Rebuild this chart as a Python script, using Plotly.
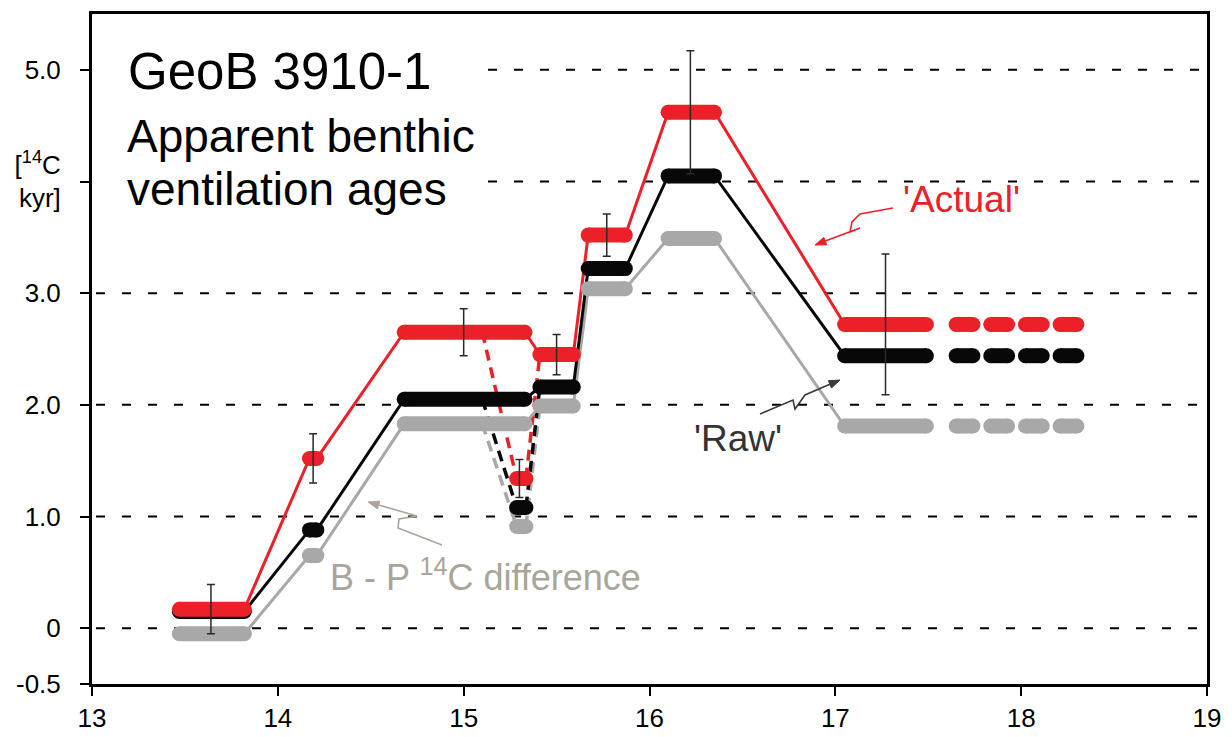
import math
import plotly.graph_objects as go

# ---------------- data ----------------
# age plateaus (kyr BP) - start / end of each plateau
seg_start = [13.47, 14.17, 14.68, 15.41, 15.67, 16.10, 17.05]
seg_end = [13.82, 14.21, 15.33, 15.59, 15.87, 16.35, 17.49]
actual = [0.17, 1.52, 2.65, 2.45, 3.52, 4.62, 2.72]
raw = [0.15, 0.88, 2.05, 2.16, 3.22, 4.05, 2.44]
bp_diff = [-0.05, 0.65, 1.83, 1.99, 3.04, 3.49, 1.81]

# alternative (dashed) dip
dip_branch_x = 15.10
dip_start, dip_end = 15.285, 15.335
actual_dip, raw_dip, bp_dip = 1.34, 1.08, 0.91

# extrapolated plateau (drawn dashed)
ext_start, ext_end = 17.65, 18.30
ext_pieces = 4

# error bars on 'Actual'
err_x = [13.64, 14.19, 15.00, 15.30, 15.50, 15.77, 16.22, 17.27]
err_y = [0.17, 1.52, 2.65, 1.34, 2.45, 3.52, 4.62, 2.72]
err_v = [0.22, 0.22, 0.21, 0.17, 0.18, 0.19, 0.55, 0.63]

x_ticks = [13, 14, 15, 16, 17, 18, 19]
y_ticks = [-0.5, 0, 1, 2, 3, 4, 5]
y_ticklabels = ["-0.5", "0", "1.0", "2.0", "3.0", "[<sup>14</sup>C<br>kyr]", "5.0"]
grid_vals = [0, 1, 2, 3, 4, 5]

# ---------------- style ----------------
RED = "#ec2028"
BLACK = "#080808"
GRAY = "#a8a8a8"
TXT_GRAY = "#a9a599"
RAW_TXT = "#3a3a3a"
W_THICK = 15
W_THIN = 3

fig = go.Figure()

# dashed pieces of extension
L = ext_end - ext_start
d = L * 17 / (17 * ext_pieces + 18 * (ext_pieces - 1))
g = d * 18 / 17
ext_segs = [(ext_start + i * (d + g), ext_start + i * (d + g) + d) for i in range(ext_pieces)]

series = [(bp_diff, bp_dip, GRAY), (raw, raw_dip, BLACK), (actual, actual_dip, RED)]

for vals, dipv, col in series:
    # dashed alternative path through the dip
    fig.add_trace(go.Scatter(
        x=[dip_branch_x, dip_start, None, dip_end, seg_start[3]],
        y=[vals[2], dipv, None, dipv, vals[3]],
        mode="lines", line=dict(color=col, width=3.5, dash="11px,7px"),
        hoverinfo="skip"))

for vals, dipv, col in series:
    # thin connecting line
    xs, ys = [], []
    for s, e, v in zip(seg_start, seg_end, vals):
        xs += [s, e]
        ys += [v, v]
    fig.add_trace(go.Scatter(x=xs, y=ys, mode="lines",
                             line=dict(color=col, width=W_THIN), hoverinfo="skip"))

for vals, dipv, col in series:
    # thick plateaus with rounded ends
    bars = list(zip(seg_start, seg_end, vals)) + [(dip_start, dip_end, dipv)]
    bars += [(s, e, vals[-1]) for s, e in ext_segs]
    xs, ys = [], []
    for s, e, v in bars:
        xs += [s, e, None]
        ys += [v, v, None]
    fig.add_trace(go.Scatter(x=xs, y=ys, mode="lines+markers",
                             line=dict(color=col, width=W_THICK),
                             marker=dict(color=col, size=W_THICK, line=dict(width=0)),
                             hoverinfo="skip"))

# error bars
fig.add_trace(go.Scatter(
    x=err_x, y=err_y, mode="markers",
    marker=dict(size=1, color="rgba(0,0,0,0)"),
    error_y=dict(type="data", array=err_v, color="#2a2a2a", thickness=1.5, width=4),
    hoverinfo="skip"))

# ---------------- layout helpers ----------------
X0, X1, Y0, Y1 = 92, 1207, 14, 684


def px(x):
    return (x - X0) / (X1 - X0)


def py(y):
    return 1 - (y - Y0) / (Y1 - Y0)


def path(points, close=False):
    s = "M " + " L ".join(f"{px(a):.5f},{py(b):.5f}" for a, b in points)
    return s + (" Z" if close else "")


def squiggle_arrow(points, color):
    """polyline body plus a filled triangular head at the last point"""
    (tx, ty), (hx, hy) = points[-2], points[-1]
    dx, dy = hx - tx, hy - ty
    n = math.hypot(dx, dy)
    ux, uy = dx / n, dy / n
    bx, by = hx - 11 * ux, hy - 11 * uy
    head = [(hx, hy), (bx - 4 * uy, by + 4 * ux), (bx + 4 * uy, by - 4 * ux)]
    body = points[:-1] + [(bx, by)]
    return [
        dict(type="path", xref="paper", yref="paper", path=path(body),
             line=dict(color=color, width=1.6)),
        dict(type="path", xref="paper", yref="paper", path=path(head, close=True),
             fillcolor=color, line=dict(color=color, width=1)),
    ]


shapes = []
# dashed horizontal gridlines (hidden behind the title block at the top left)
for gv in grid_vals:
    x_left = px(488) if gv >= 4 else px(X0 + 4)
    shapes.append(dict(type="line", xref="paper", yref="y", x0=x_left, x1=px(X1 - 3),
                       y0=gv, y1=gv, layer="below",
                       line=dict(color="black", width=2, dash="9px,17px")))

shapes += squiggle_arrow([(893, 208), (860, 214), (852, 222), (850, 232), (860, 228), (815, 245)], RED)
shapes += squiggle_arrow([(760, 414), (793, 400), (795, 409), (805, 395), (840, 380)], RAW_TXT)
shapes += squiggle_arrow([(442, 545), (398, 528), (399, 519), (417, 516), (368, 502)], TXT_GRAY)

annotations = [
    dict(text="GeoB 3910-1", x=px(126), y=py(71), xref="paper", yref="paper",
         xanchor="left", yanchor="middle", showarrow=False,
         font=dict(size=51, color="black")),
    dict(text="Apparent benthic", x=px(125), y=py(136), xref="paper", yref="paper",
         xanchor="left", yanchor="middle", showarrow=False,
         font=dict(size=46, color="black")),
    dict(text="ventilation ages", x=px(125), y=py(189), xref="paper", yref="paper",
         xanchor="left", yanchor="middle", showarrow=False,
         font=dict(size=46, color="black")),
    dict(text="'Actual'", x=px(901), y=py(199), xref="paper", yref="paper",
         xanchor="left", yanchor="middle", showarrow=False,
         font=dict(size=37, color=RED)),
    dict(text="'Raw'", x=px(692), y=py(438), xref="paper", yref="paper",
         xanchor="left", yanchor="middle", showarrow=False,
         font=dict(size=37, color="#333333")),
    dict(text="B - P <sup>14</sup>C difference", x=px(328), y=py(600), xref="paper", yref="paper",
         xanchor="left", yanchor="bottom", showarrow=False,
         font=dict(size=36, color=TXT_GRAY)),
]

fig.update_layout(
    width=1232, height=737,
    margin=dict(l=X0, r=1232 - X1, t=Y0, b=737 - Y1),
    plot_bgcolor="white", paper_bgcolor="white",
    showlegend=False,
    font=dict(family="Liberation Sans, Arial, sans-serif", color="black"),
    xaxis=dict(range=[13, 19], tickvals=x_ticks, ticktext=[str(t) for t in x_ticks],
               automargin=False,
               showgrid=False, zeroline=False, showline=True, linecolor="black",
               linewidth=3, mirror=True, ticks="outside", ticklen=9, tickwidth=2,
               tickcolor="black", ticklabelstandoff=0,
               tickfont=dict(family="Liberation Sans, Arial", size=26, color="black")),
    yaxis=dict(range=[-0.5, 5.5], tickvals=y_ticks, ticktext=y_ticklabels,
               automargin=False,
               showgrid=False, zeroline=False, showline=True, linecolor="black", linewidth=3,
               mirror=True, ticks="outside", ticklen=9, tickwidth=2, tickcolor="black",
               ticklabelstandoff=14,
               tickfont=dict(family="Liberation Sans, Arial", size=26, color="black")),
    shapes=shapes,
    annotations=annotations,
)

fig.write_html("out.html")
